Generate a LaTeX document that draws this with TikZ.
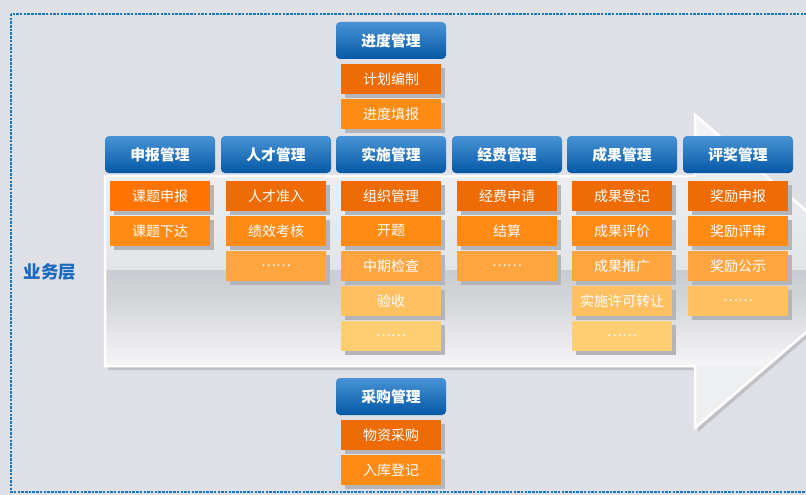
\documentclass[tikz,border=0pt]{standalone}
\usepackage{fontspec}
\newfontfamily\cjk{Noto Sans CJK SC}
\usetikzlibrary{shadows}
\definecolor{bg}{HTML}{DFE0E5}
\definecolor{frame}{HTML}{1878C8}
\definecolor{hdrtop}{HTML}{4893D5}
\definecolor{hdrbot}{HTML}{0558A6}
\definecolor{shd}{HTML}{B4B5BA}
\definecolor{orA}{HTML}{FF7300}
\definecolor{or1}{HTML}{EE6B05}
\definecolor{or2}{HTML}{FF8A14}
\definecolor{or3}{HTML}{FFA540}
\definecolor{or4}{HTML}{FFC062}
\definecolor{or5}{HTML}{FFCE72}
\definecolor{lbl}{HTML}{1A6AC0}
\definecolor{arA}{HTML}{F4F5F7}
\definecolor{arB}{HTML}{E3E4E8}
\definecolor{arC}{HTML}{CBCCD1}
\definecolor{arD}{HTML}{D6D7DB}
\definecolor{arE}{HTML}{F6F6F8}
\definecolor{arF}{HTML}{EEEFF1}
\begin{document}
\begin{tikzpicture}[x=1pt,y=-1pt,
  hdr/.style={rectangle, rounded corners=4pt, minimum width=110pt, minimum height=37pt, inner sep=0pt,
    top color=hdrtop, bottom color=hdrbot, text=white, font=\cjk\bfseries\fontsize{14.8}{16}\selectfont},
  sub/.style={rectangle, minimum width=100pt, minimum height=30pt, inner sep=0pt, text=white,
    font=\cjk\fontsize{14}{15}\selectfont,
    general shadow={shadow xshift=4pt, shadow yshift=-4pt, fill=shd}},
  s0/.style={sub, fill=orA},
  s1/.style={sub, fill=or1},
  s2/.style={sub, fill=or2},
  s3/.style={sub, fill=or3},
  s4/.style={sub, fill=or4},
  s5/.style={sub, fill=or5}]
\useasboundingbox (0,0) rectangle (806,495);
\clip (0,0) rectangle (806,495);
\fill[bg] (0,0) rectangle (806,495);
\draw[frame, line width=1.2pt, dash pattern=on 2.5pt off 1.2pt] (11,14) rectangle (830,492);
% big arrow
\def\arrowpath{(105,176) -- (695,176) -- (695,115) -- (877,271.5) -- (695,428) -- (695,366) -- (105,366) -- cycle}
\fill[shd, opacity=0.7] (108,180) -- (698,180) -- (698,119) -- (880,275) -- (698,432) -- (698,370) -- (108,370) -- cycle;
\begin{scope}
  \clip \arrowpath;
  \fill[top color=arA, bottom color=arB] (100,110) rectangle (900,270.5);
  \fill[top color=arC, bottom color=arD] (100,270.5) rectangle (900,305);
  \fill[top color=arD, bottom color=arE] (100,305) rectangle (900,366);
  \fill[arF] (100,366) rectangle (900,430);
\end{scope}
\draw[white, line width=2.5pt, line join=miter] \arrowpath;
% label
\node[text=lbl, font=\cjk\bfseries\fontsize{17.5}{19}\selectfont] (lay) at (50,272) {业务层};
% top column
\node[hdr] (hp) at (391,40.5) {进度管理};
\node[s1] (p1) at (391,79) {计划编制};
\node[s2] (p2) at (391,114) {进度填报};
% headers
\node[hdr] (h1) at (160,154.5) {申报管理};
\node[hdr] (h2) at (276,154.5) {人才管理};
\node[hdr] (h3) at (391,154.5) {实施管理};
\node[hdr] (h4) at (507,154.5) {经费管理};
\node[hdr] (h5) at (622,154.5) {成果管理};
\node[hdr] (h6) at (738,154.5) {评奖管理};
% column 1
\node[s0] (a1) at (160,196) {课题申报};
\node[s2] (a2) at (160,231) {课题下达};
% column 2
\node[s1] (b1) at (276,196) {人才准入};
\node[s2] (b2) at (276,231) {绩效考核};
\node[s3] (b3) at (276,266) {……};
% column 3
\node[s1] (c1) at (391,196) {组织管理};
\node[s2] (c2) at (391,231) {开题};
\node[s3] (c3) at (391,266) {中期检查};
\node[s4] (c4) at (391,301) {验收};
\node[s5] (c5) at (391,336) {……};
% column 4
\node[s1] (d1) at (507,196) {经费申请};
\node[s2] (d2) at (507,231) {结算};
\node[s3] (d3) at (507,266) {……};
% column 5
\node[s1] (e1) at (622,196) {成果登记};
\node[s2] (e2) at (622,231) {成果评价};
\node[s3] (e3) at (622,266) {成果推广};
\node[s4] (e4) at (622,301) {实施许可转让};
\node[s5] (e5) at (622,336) {……};
% column 6
\node[s1] (f1) at (738,196) {奖励申报};
\node[s2] (f2) at (738,231) {奖励评审};
\node[s3] (f3) at (738,266) {奖励公示};
\node[s4] (f4) at (738,301) {……};
% bottom column
\node[hdr] (hc) at (391,396.5) {采购管理};
\node[s1] (q1) at (391,435) {物资采购};
\node[s2] (q2) at (391,470) {入库登记};
\end{tikzpicture}
\end{document}
